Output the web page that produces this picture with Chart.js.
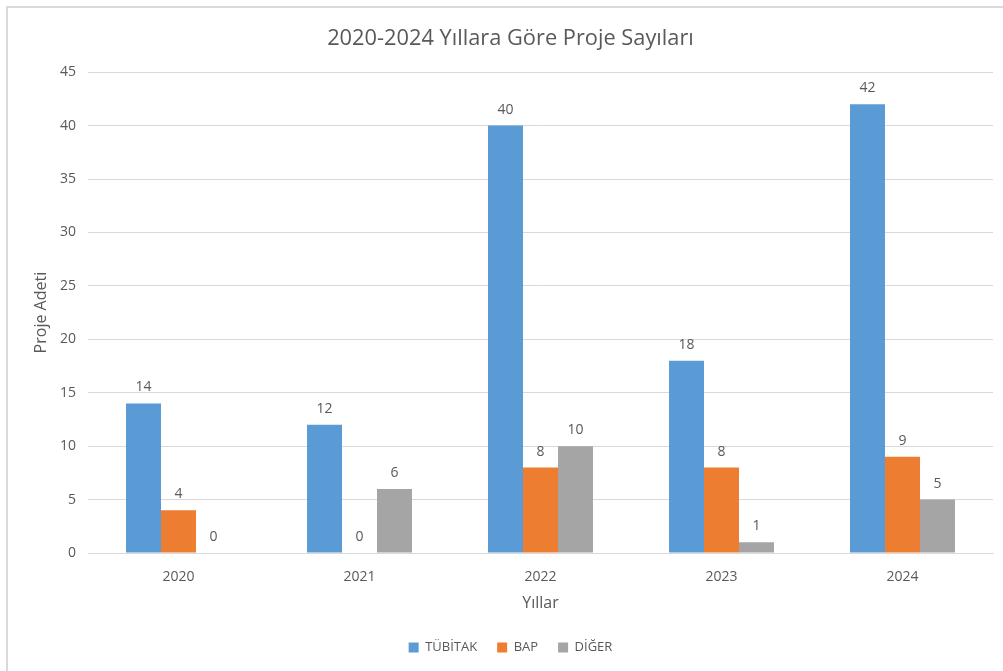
<!DOCTYPE html>
<html>
<head>
<meta charset="utf-8">
<script src="https://cdn.jsdelivr.net/npm/chart.js@4"></script>
<style>
  html, body { margin: 0; padding: 0; background: #fff; overflow: hidden; }
  #wrap { position: relative; width: 1003px; height: 671px; }
  #frame { position: absolute; left: 6px; top: 6px; width: 1010px; height: 680px;
           border: 2px solid #d9d9d9; box-sizing: border-box; pointer-events: none; }
  canvas { position: absolute; left: 0; top: 0; }
</style>
</head>
<body>
<div id="wrap">
  <canvas id="chart" width="1003" height="671"></canvas>
  <div id="frame"></div>
</div>
<script>
// veriler
const years = ['2020', '2021', '2022', '2023', '2024'];
const tubitak = [14, 12, 40, 18, 42];
const bap = [4, 0, 8, 8, 9];
const diger = [0, 6, 10, 1, 5];
const yTicks = [0, 5, 10, 15, 20, 25, 30, 35, 40, 45];

const FONT = "'Open Sans', 'Liberation Sans', sans-serif";
const TXT = '#595959';

// bar üstü değer etiketleri
const valueLabels = {
  id: 'valueLabels',
  afterDatasetsDraw(chart) {
    const ctx = chart.ctx;
    ctx.save();
    ctx.font = '14px ' + FONT;
    ctx.fillStyle = TXT;
    ctx.textAlign = 'center';
    ctx.textBaseline = 'bottom';
    chart.data.datasets.forEach((ds, i) => {
      chart.getDatasetMeta(i).data.forEach((bar, j) => {
        ctx.fillText(String(ds.data[j]), bar.x, bar.y - 9);
      });
    });
    ctx.restore();
  }
};

new Chart(document.getElementById('chart'), {
  type: 'bar',
  data: {
    labels: years,
    datasets: [
      { label: 'TÜBİTAK', data: tubitak, backgroundColor: '#5b9bd5' },
      { label: 'BAP', data: bap, backgroundColor: '#ed7d31' },
      { label: 'DİĞER', data: diger, backgroundColor: '#a5a5a5' },
    ]
  },
  options: {
    responsive: false,
    animation: false,
    categoryPercentage: 0.58,
    barPercentage: 1.0,
    layout: { padding: { left: 28, right: 10, top: 14, bottom: 7 } },
    plugins: {
      title: {
        display: true,
        text: '2020-2024 Yıllara Göre Proje Sayıları',
        color: TXT,
        font: { family: FONT, size: 21.8, weight: 'normal' },
        padding: { top: 12, bottom: 20 }
      },
      legend: {
        position: 'bottom',
        labels: {
          color: TXT,
          font: { family: FONT, size: 13 },
          boxWidth: 10, boxHeight: 10,
          padding: 20
        }
      },
      tooltip: { enabled: false }
    },
    scales: {
      x: {
        grid: { display: false },
        border: { color: '#d9d9d9' },
        ticks: { color: TXT, font: { family: FONT, size: 14 }, padding: 8 },
        title: { display: true, text: 'Yıllar', color: TXT, font: { family: FONT, size: 16 }, padding: { top: 0, bottom: 8 } }
      },
      y: {
        min: 0, max: 45,
        afterBuildTicks: axis => { axis.ticks = yTicks.map(v => ({ value: v })); },
        grid: { color: '#d9d9d9', drawTicks: false },
        border: { display: false },
        ticks: { color: TXT, font: { family: FONT, size: 14 }, padding: 12 },
        title: { display: true, text: 'Proje Adeti', color: TXT, font: { family: FONT, size: 16 }, padding: 4 },
        afterFit: axis => { axis.width = 60; }
      }
    }
  },
  plugins: [valueLabels]
});
</script>
</body>
</html>
